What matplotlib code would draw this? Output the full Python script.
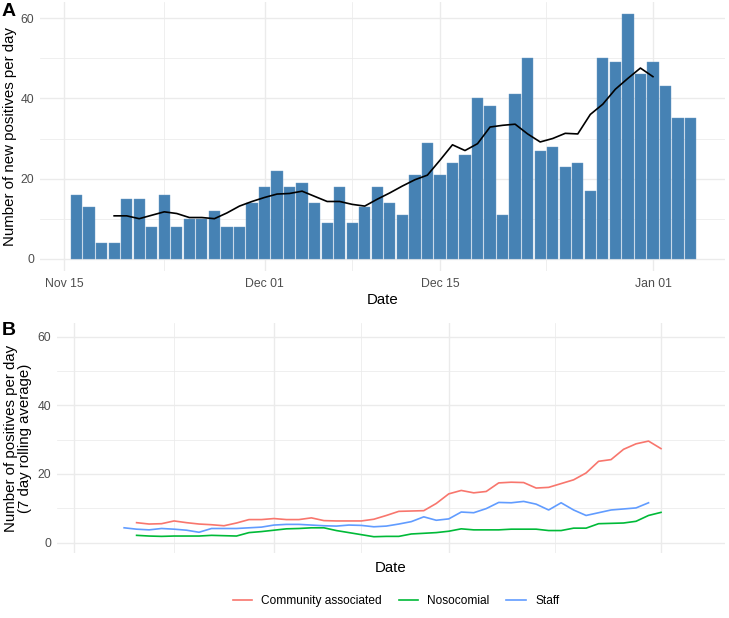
import matplotlib
matplotlib.use('Agg')
import matplotlib.pyplot as plt
import matplotlib.dates as mdates
from matplotlib.ticker import MultipleLocator, NullFormatter
import pandas as pd

plt.rcParams['font.family'] = ['Liberation Sans', 'DejaVu Sans']

# casos diarios (barras), 16 nov a 4 jan
casos = [16, 13, 4, 4, 15, 15, 8, 16, 8, 10, 10, 12, 8, 8, 14,
         18, 22, 18, 19, 14, 9, 18, 9, 13, 18, 14, 11, 21, 29, 21,
         24, 26, 40, 38, 11, 41, 50, 27, 28, 23, 24, 17, 50, 49, 61,
         46, 49, 43, 35, 35]
inicio_casos = '2020-11-16'

# media movel de 7 dias (linha preta), 19 nov a 1 jan
media7 = [10.71, 10.71, 10.0, 10.86, 11.71, 11.29, 10.29, 10.29, 10.0, 11.43,
          13.14, 14.29, 15.29, 16.14, 16.29, 16.86, 15.57, 14.29, 14.29, 13.57,
          13.14, 14.86, 16.43, 18.14, 19.71, 20.86, 24.57, 28.43, 27.0, 28.71,
          32.86, 33.29, 33.57, 31.14, 29.14, 30.0, 31.29, 31.14, 36.0, 38.57,
          42.29, 45.0, 47.57, 45.43]
inicio_media = '2020-11-19'

# painel B: medias moveis por categoria
comunidade = [5.8, 5.4, 5.5, 6.3, 5.8, 5.4, 5.2, 4.9, 5.7, 6.7, 6.7,
              7.0, 6.7, 6.7, 7.2, 6.4, 6.3, 6.3, 6.3, 6.8, 7.9, 9.1, 9.2, 9.3,
              11.4, 14.2, 15.2, 14.5, 14.9, 17.4, 17.6, 17.5, 15.9, 16.1, 17.2,
              18.3, 20.3, 23.7, 24.2, 27.2, 28.8, 29.6, 27.4]
inicio_comunidade = '2020-11-20'

nosocomial = [2.1, 1.9, 1.8, 1.9, 1.9, 1.9, 2.1, 2.0, 1.9, 2.9, 3.2,
              3.6, 4.0, 4.1, 4.3, 4.3, 3.5, 2.9, 2.3, 1.7, 1.8, 1.8, 2.5, 2.7,
              2.9, 3.3, 4.0, 3.7, 3.7, 3.7, 3.9, 3.9, 3.9, 3.5, 3.5, 4.2, 4.2,
              5.5, 5.6, 5.7, 6.2, 7.9, 8.8]
inicio_nosocomial = '2020-11-20'

staff = [4.3, 3.9, 3.7, 4.1, 3.9, 3.6, 3.0, 4.1, 4.1, 4.1, 4.3, 4.5,
         5.1, 5.3, 5.3, 5.1, 4.9, 4.8, 5.1, 5.0, 4.6, 4.8, 5.4, 6.1, 7.5,
         6.5, 6.9, 8.9, 8.7, 9.9, 11.7, 11.6, 12.0, 11.2, 9.5, 11.6, 9.5,
         7.9, 8.7, 9.5, 9.8, 10.1, 11.6]
inicio_staff = '2020-11-19'

datas_ticks = ['2020-11-15', '2020-12-01', '2020-12-15', '2021-01-01']

W, H = 729, 618
fig = plt.figure(figsize=(W / 100, H / 100), dpi=100)

grid_cor = '#EBEBEB'
tick_cor = '#4D4D4D'


def estilo(ax, x0, x1):
    ax.set_xlim(pd.Timestamp(x0), pd.Timestamp(x1))
    ax.set_ylim(-3.05, 64.05)
    for s in ax.spines.values():
        s.set_visible(False)
    ax.set_xticks([pd.Timestamp(d) for d in datas_ticks])
    ax.set_xticks([pd.Timestamp('2020-11-23'), pd.Timestamp('2020-12-08'),
                   pd.Timestamp('2020-12-23 12:00')], minor=True)
    ax.yaxis.set_major_locator(MultipleLocator(20))
    ax.yaxis.set_minor_locator(MultipleLocator(10))
    ax.grid(which='major', color=grid_cor, linewidth=1.0)
    ax.grid(which='minor', color=grid_cor, linewidth=0.55)
    ax.set_axisbelow(True)
    ax.tick_params(which='both', length=0, labelsize=8.8, labelcolor=tick_cor)
    ax.tick_params(axis='y', pad=4)
    ax.tick_params(axis='x', pad=5)


# Painel A
axA = fig.add_axes([40 / W, 1 - 271 / H, 685 / W, 269 / H])
estilo(axA, '2020-11-13 02:00', '2021-01-06 18:00')
xc = pd.date_range(inicio_casos, periods=len(casos))
axA.bar(xc, casos, width=0.9, color='#4682B4', edgecolor='#6d9cc6', linewidth=0.3)
xm = pd.date_range(inicio_media, periods=len(media7))
axA.plot(xm, media7, color='black', linewidth=1.2)
axA.xaxis.set_major_formatter(mdates.DateFormatter('%b %d'))
axA.set_xlabel('Date', fontsize=10.8, labelpad=2)
axA.set_ylabel('Number of new positives per day', fontsize=10.8)
axA.yaxis.set_label_coords(-0.034, 0.5)

# Painel B
axB = fig.add_axes([57 / W, 1 - 553 / H, 668 / W, 230 / H])
estilo(axB, '2020-11-13 15:00', '2021-01-06 03:00')
axB.plot(pd.date_range(inicio_comunidade, periods=len(comunidade)), comunidade,
         color='#F8766D', linewidth=1.2, label='Community associated')
axB.plot(pd.date_range(inicio_nosocomial, periods=len(nosocomial)), nosocomial,
         color='#00BA38', linewidth=1.2, label='Nosocomial')
axB.plot(pd.date_range(inicio_staff, periods=len(staff)), staff,
         color='#619CFF', linewidth=1.2, label='Staff')
axB.xaxis.set_major_formatter(NullFormatter())
axB.set_xlabel('Date', fontsize=10.8, labelpad=1)
axB.set_ylabel('Number of positives per day\n(7 day rolling average)', fontsize=10.8,
               linespacing=0.95)
axB.yaxis.set_label_coords(-0.038, 0.5)

fig.legend(loc='center', bbox_to_anchor=(396 / W, 1 - 601 / H), ncol=3,
           frameon=False, fontsize=8.6, handlelength=1.6, columnspacing=1.4,
           handletextpad=0.8)

fig.text(2 / W, 1 - 3 / H, 'A', fontsize=14, fontweight='bold', va='top', ha='left')
fig.text(2 / W, 1 - 322 / H, 'B', fontsize=14, fontweight='bold', va='top', ha='left')

fig.savefig('out.png', dpi=100)
